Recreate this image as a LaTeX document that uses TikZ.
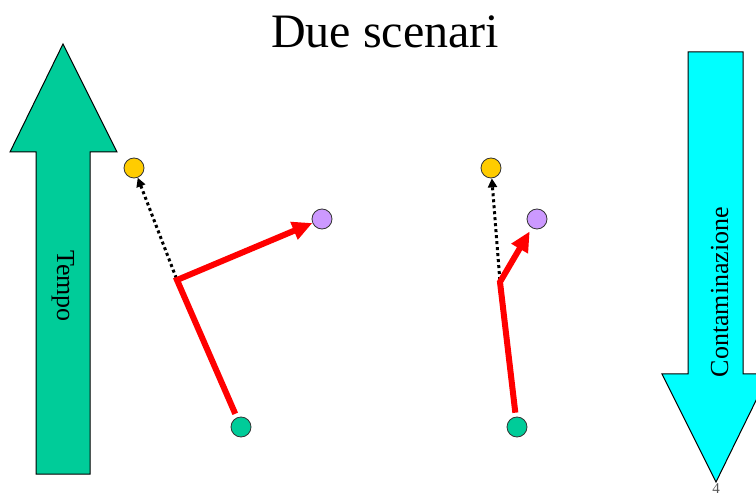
\documentclass[tikz,border=0pt]{standalone}
\usepackage{fontspec}
\setmainfont{Liberation Serif}
\usetikzlibrary{arrows.meta}
\definecolor{tgreen}{HTML}{00CC99}
\definecolor{tcyan}{HTML}{00FFFF}
\definecolor{tyellow}{HTML}{FFCC00}
\definecolor{tpurple}{HTML}{CC99FF}
\definecolor{tred}{HTML}{FF0000}
\definecolor{tgrey}{HTML}{555555}
\tikzset{
  dot/.style={circle, draw=black!80, line width=0.8pt, minimum size=20pt, inner sep=0pt},
  bigarrow/.style={draw=black, line width=1pt},
  redline/.style={draw=tred, line width=6pt, line join=miter, shorten <=4pt,
    -{Triangle[length=20pt,width=18pt]}},
  dotline/.style={draw=black, line width=3pt, dash pattern=on 3pt off 3pt, shorten <=2pt,
    -{Triangle[length=9pt,width=9pt]}},
  lbl/.style={inner sep=0pt, font=\fontsize{26}{30}\selectfont}
}
\begin{document}
\begin{tikzpicture}[x=1pt,y=-1pt]
\useasboundingbox (0,0) rectangle (756,497);
\clip (0,0) rectangle (756,497);
% title
\node[inner sep=0pt, anchor=base, font=\fontsize{48}{56}\selectfont] (title) at (385,48) {Due scenari};
% time arrow
\filldraw[bigarrow, fill=tgreen] (36,474) -- (36,152) -- (10,152) -- (63,44) -- (117,152) -- (90,152) -- (90,474) -- cycle;
\node[lbl, rotate=-90, anchor=base] (tempo) at (57,286) {Tempo};
% contamination arrow
\filldraw[bigarrow, fill=tcyan] (688,52) -- (743,52) -- (743,374) -- (769,374) -- (716,482) -- (662,374) -- (688,374) -- cycle;
\node[lbl, rotate=90, anchor=base] (cont) at (728,292) {Contaminazione};
\node[inner sep=0pt, text=tgrey, font=\fontsize{15}{17}\selectfont] (pnum) at (716,489) {4};
% scenario 1
\node[dot, fill=tyellow] (y1) at (134,168) {};
\node[dot, fill=tpurple] (p1) at (322,219) {};
\node[dot, fill=tgreen] (g1) at (241,427) {};
\coordinate (c1) at (177,280);
\draw[dotline] (c1) -- (y1);
\draw[redline] (g1) -- (c1) -- (p1);
% scenario 2
\node[dot, fill=tyellow] (y2) at (491,168) {};
\node[dot, fill=tpurple] (p2) at (537,219) {};
\node[dot, fill=tgreen] (g2) at (517,427) {};
\coordinate (c2) at (500,282);
\draw[dotline] (c2) -- (y2);
\draw[redline, shorten >=4pt] (g2) -- (c2) -- (p2);
\end{tikzpicture}
\end{document}
